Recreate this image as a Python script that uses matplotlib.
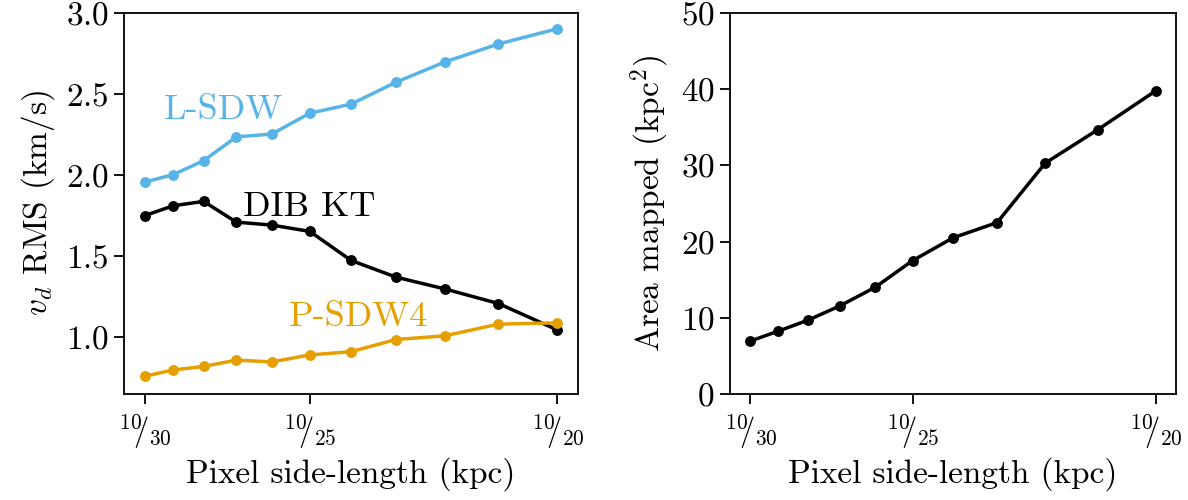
import numpy as np
import matplotlib
matplotlib.use('Agg')
import matplotlib.pyplot as plt

plt.rcParams['font.family'] = 'serif'
plt.rcParams['font.serif'] = ['cmr10']
plt.rcParams['mathtext.fontset'] = 'cm'
plt.rcParams['axes.formatter.use_mathtext'] = True
plt.rcParams['font.size'] = 24

# pixel side length = 10/n kpc, n = 30..20
n_pix = [30, 29, 28, 27, 26, 25, 24, 23, 22, 21, 20]
side = [10 / n for n in n_pix]

l_sdw = [1.957, 2.003, 2.089, 2.236, 2.253, 2.382, 2.438, 2.573, 2.698, 2.809, 2.903]
dib_kt = [1.750, 1.811, 1.838, 1.710, 1.692, 1.653, 1.474, 1.371, 1.298, 1.208, 1.045]
p_sdw4 = [0.760, 0.798, 0.820, 0.859, 0.848, 0.891, 0.911, 0.986, 1.009, 1.081, 1.089]

area = [6.95, 8.25, 9.7, 11.6, 14.0, 17.5, 20.5, 22.5, 30.3, 34.7, 39.8]

tick_n = [30, 25, 20]
tick_pos = [10 / n for n in tick_n]
tick_lab = [r'$^{10}\!\!/_{%d}$' % n for n in tick_n]

c_blue = '#56B4E9'
c_orange = '#E69F00'

fig = plt.figure(figsize=(11.88, 5), dpi=100)
ax1 = fig.add_axes([0.1044, 0.212, 0.3822, 0.762])
ax2 = fig.add_axes([0.6145, 0.212, 0.3755, 0.762])

ax1.plot(side, l_sdw, '-o', color=c_blue, lw=2.5, ms=6.8)
ax1.plot(side, dib_kt, '-o', color='black', lw=2.5, ms=6.8)
ax1.plot(side, p_sdw4, '-o', color=c_orange, lw=2.5, ms=6.8)
ax1.text(0.3411, 2.345, 'L-SDW', color=c_blue, fontsize=26)
ax1.text(0.3731, 1.749, 'DIB KT', color='black', fontsize=26)
ax1.text(0.3915, 1.070, 'P-SDW4', color=c_orange, fontsize=26)
ax1.set_ylim(0.65, 3.0)
ax1.set_yticks([1.0, 1.5, 2.0, 2.5, 3.0])
ax1.set_ylabel(r'$v_d$ RMS (km/s)', fontsize=24, labelpad=6)

ax2.plot(side, area, '-o', color='black', lw=2.5, ms=6.8)
ax2.set_ylim(0, 50)
ax2.set_yticks([0, 10, 20, 30, 40, 50])
ax2.set_ylabel(r'Area mapped (kpc$^2$)', fontsize=24, labelpad=6)

for ax in (ax1, ax2):
    ax.set_xticks(tick_pos)
    ax.set_xticklabels(tick_lab, fontsize=22)
    ax.set_xlabel('Pixel side-length (kpc)', fontsize=24, labelpad=4)
    ax.tick_params(axis='y', labelsize=24, width=1.3, length=7, pad=4)
    ax.tick_params(axis='x', width=1.3, length=7, pad=6)
    for s in ax.spines.values():
        s.set_linewidth(1.3)

fig.savefig('out.png', dpi=100)
